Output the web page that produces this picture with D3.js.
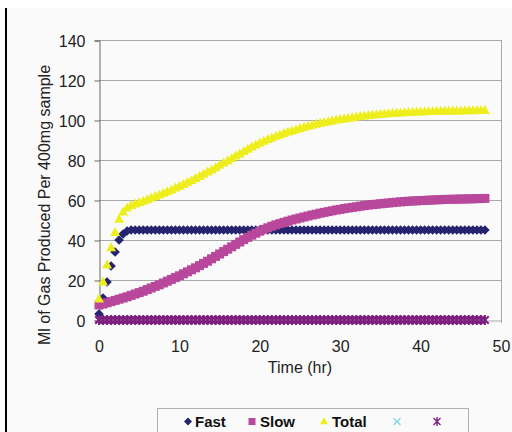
<!DOCTYPE html>
<html><head><meta charset="utf-8">
<script src="https://cdn.jsdelivr.net/npm/d3@7"></script>
<style>
html,body{margin:0;padding:0;background:#fafafa;}
svg{display:block;font-family:"Liberation Sans",Arial,sans-serif;}
</style></head>
<body><svg id="c" width="512" height="432"></svg>
<script>
// ---- data (hours, every 0.5 h) ----
const time = d3.range(0, 48.01, 0.5);
const fast = [3,11,19,27,34,40,43,44.5,45,
45,45,45,45,45,45,45,45,45,45,45,
45,45,45,45,45,45,45,45,45,45,45,
45,45,45,45,45,45,45,45,45,45,45,
45,45,45,45,45,45,45,45,45,45,45,
45,45,45,45,45,45,45,45,45,45,45,
45,45,45,45,45,45,45,45,45,45,45,
45,45,45,45,45,45,45,45,45,45,45,
45,45,45,45,45,45,45,45,45,45,45];
const slow = [7.5,8.0,8.6,9.2,9.8,10.4,11.0,11.6,12.3,13.0,13.7,14.4,15.2,16.0,16.8,17.6,18.5,19.4,20.3,21.2,
22.1,23.1,24.1,25.1,26.1,27.2,28.3,29.4,30.6,31.8,33.0,34.2,35.4,36.6,37.8,39.0,40.2,41.3,42.4,43.4,
44.4,45.3,46.1,46.9,47.6,48.2,48.8,49.4,50.0,50.5,51.0,51.5,52.0,52.5,52.9,53.4,53.8,54.2,54.6,55.0,
55.3,55.7,56.0,56.3,56.6,56.9,57.2,57.5,57.7,57.9,58.1,58.3,58.5,58.7,58.9,59.1,59.2,59.4,59.5,59.6,
59.7,59.8,59.9,60.0,60.1,60.2,60.3,60.3,60.4,60.4,60.5,60.5,60.6,60.6,60.7,60.7,60.8];
const total = [10.5,19,27.6,36.2,43.8,50.4,54.0,56.1,57.3,58.0,58.7,59.4,60.2,61.0,61.8,62.6,63.4,64.2,65.1,66.0,
66.9,67.8,68.8,69.8,70.8,71.8,72.9,74.0,75.1,76.2,77.4,78.5,79.7,80.8,82.0,83.1,84.3,85.4,86.5,87.5,
88.5,89.4,90.3,91.1,91.9,92.6,93.3,94.0,94.6,95.2,95.8,96.4,96.9,97.4,97.9,98.4,98.8,99.2,99.6,100.0,
100.3,100.6,100.9,101.2,101.5,101.8,102.0,102.3,102.5,102.7,102.9,103.1,103.2,103.4,103.5,103.6,103.7,103.8,103.9,104.0,
104.1,104.2,104.3,104.3,104.4,104.4,104.5,104.5,104.6,104.6,104.6,104.7,104.7,104.7,104.8,104.8,104.8];
const seriesX = time.map(() => 0);
const seriesStar = time.map(() => 0);
const yTicks = [0,20,40,60,80,100,120,140];
const xTicks = [0,10,20,30,40,50];
const legendNames = ["Fast","Slow","Total","",""];

// ---- layout ----
const svg = d3.select("#c");
svg.append("rect").attr("x",0).attr("y",0).attr("width",512).attr("height",8).attr("fill","#ffffff");
svg.append("line").attr("x1",6).attr("x2",6).attr("y1",8).attr("y2",432).attr("stroke","#000").attr("stroke-width",2);

const x = d3.scaleLinear().domain([0,50]).range([99,501]);
const y = d3.scaleLinear().domain([0,140]).range([320,40]);

// gridlines
svg.append("g").selectAll("line").data(yTicks.filter(d=>d>0)).join("line")
  .attr("x1",x(0)).attr("x2",x(50)).attr("y1",d=>y(d)+0.5).attr("y2",d=>y(d)+0.5)
  .attr("stroke","#a8a8a8").attr("stroke-width",1);
// right border
svg.append("line").attr("x1",x(50)+0.5).attr("x2",x(50)+0.5).attr("y1",y(140)).attr("y2",y(0)+3)
  .attr("stroke","#a8a8a8");

// y axis
const yAxis = d3.axisLeft(y).tickValues(yTicks).tickSize(5).tickPadding(9);
const gy = svg.append("g").attr("transform",`translate(${x(0)+0.5},0.5)`).call(yAxis);
gy.select(".domain").attr("stroke","#666");
gy.selectAll(".tick line").attr("stroke","#666");
gy.selectAll("text").attr("font-size","16px").attr("fill","#222").attr("font-family","Liberation Sans, Arial, sans-serif").attr("dy","0.36em");

// x axis (labels only, zero line)
const xAxis = d3.axisBottom(x).tickValues(xTicks).tickSize(0).tickPadding(20);
const gx = svg.append("g").attr("transform",`translate(0,${y(0)+0.5})`).call(xAxis);
gx.select(".domain").attr("stroke","#a8a8a8");
gx.selectAll("text").attr("font-size","16px").attr("fill","#222").attr("font-family","Liberation Sans, Arial, sans-serif");

// titles
svg.append("text").attr("x",300).attr("y",373).attr("text-anchor","middle")
  .attr("font-size","16px").attr("fill","#222").text("Time (hr)");
svg.append("text").attr("transform","translate(50,205) rotate(-90)").attr("text-anchor","middle")
  .attr("font-size","16px").attr("fill","#222").text("Ml of Gas Produced Per 400mg sample");

// marker paths
const diamond = r => `M0,${-r}L${r},0L0,${r}L${-r},0Z`;
const square = s => `M${-s/2},${-s/2}h${s}v${s}h${-s}Z`;
const tri = (w,h) => `M0,${-h*0.6}L${w/2},${h*0.4}L${-w/2},${h*0.4}Z`;
const xmark = r => `M${-r},${-r}L${r},${r}M${-r},${r}L${r},${-r}`;
const star = r => `M${-r},${-r}L${r},${r}M${-r},${r}L${r},${-r}M0,${-r*1.3}L0,${r*1.3}`;

const colors = {fast:"#25246f", slow:"#b8489c", total:"#eeee1c", xs:"#80d4e6", star:"#7e1f80"};

function drawSeries(vals, path, fill, stroke, sw){
  const g = svg.append("g");
  g.selectAll("path").data(vals.map((v,i)=>[time[i],v])).join("path")
    .attr("transform",d=>`translate(${x(d[0])},${y(d[1])})`)
    .attr("d",path)
    .attr("fill",fill).attr("stroke",stroke).attr("stroke-width",sw||0);
}
drawSeries(fast, diamond(4.8), colors.fast, "none");
drawSeries(slow, square(9), colors.slow, "none");
drawSeries(total, tri(10,9), colors.total, "none");
drawSeries(seriesX, xmark(3.5), "none", colors.xs, 1.2);
drawSeries(seriesStar, star(3.8), "none", colors.star, 2);

// legend
const lg = svg.append("g");
lg.append("rect").attr("x",157.5).attr("y",408.5).attr("width",311).attr("height",40)
  .attr("fill","#fafafa").attr("stroke","#b0b0b0");
const legItems = [
  {px:188, tx:195, path:diamond(4), fill:colors.fast, stroke:"none", sw:0, name:legendNames[0]},
  {px:252, tx:260, path:square(7), fill:colors.slow, stroke:"none", sw:0, name:legendNames[1]},
  {px:324, tx:332, path:tri(8,7), fill:colors.total, stroke:"none", sw:0, name:legendNames[2]},
  {px:397, tx:405, path:xmark(3.5), fill:"none", stroke:colors.xs, sw:1.2, name:legendNames[3]},
  {px:437, tx:445, path:star(3.5), fill:"none", stroke:colors.star, sw:1.4, name:legendNames[4]}
];
legItems.forEach(it=>{
  lg.append("path").attr("transform",`translate(${it.px},421.5)`).attr("d",it.path)
    .attr("fill",it.fill).attr("stroke",it.stroke).attr("stroke-width",it.sw);
  if(it.name) lg.append("text").attr("x",it.tx).attr("y",427).attr("font-size","15px")
    .attr("font-weight","bold").attr("fill","#111").text(it.name);
});
</script></body></html>
